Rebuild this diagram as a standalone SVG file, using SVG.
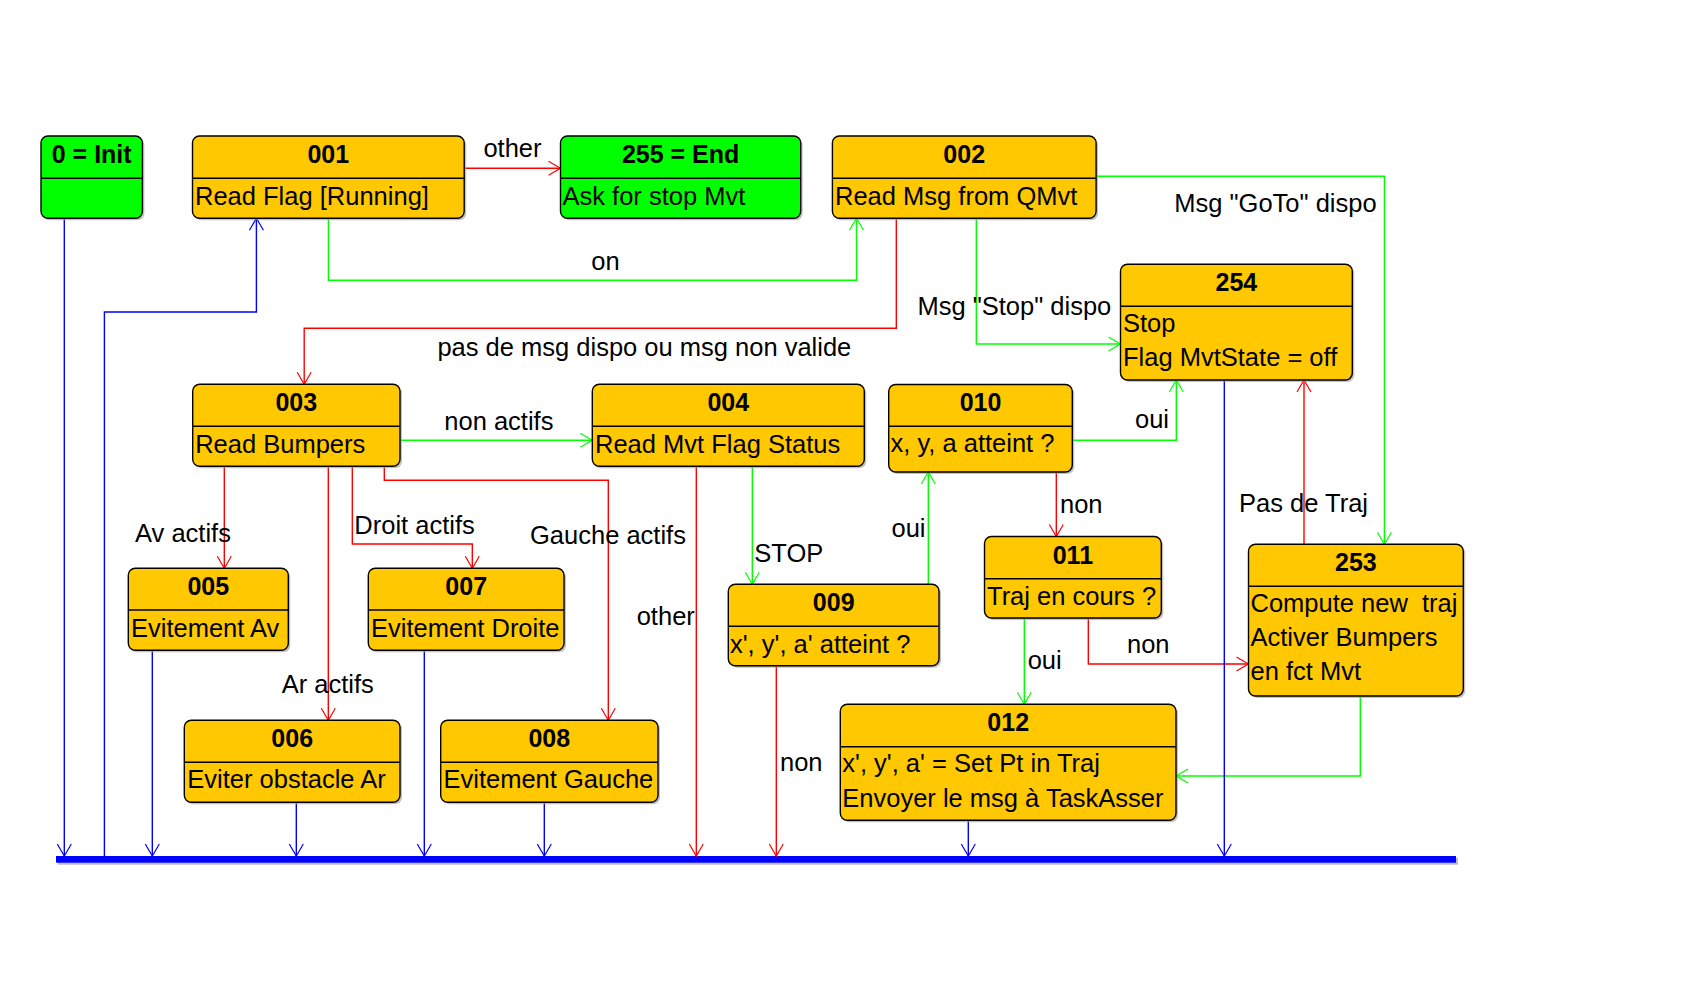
<svg xmlns="http://www.w3.org/2000/svg" width="1683" height="993" viewBox="0 0 1683 993">
<style>
.box{stroke:#000;stroke-width:1.4}
.y{fill:#FFC800}
.g{fill:#00FF00}
.sh{fill:#9a9a9a;opacity:0.6}
.sep{stroke:#000;stroke-width:1.4}
.hd{font-family:"Liberation Sans",Arial,sans-serif;font-weight:bold;font-size:25px;text-anchor:middle;fill:#000}
.bd{font-family:"Liberation Sans",Arial,sans-serif;font-size:25.5px;fill:#000;white-space:pre}
.lb{font-family:"Liberation Sans",Arial,sans-serif;font-size:25.5px;fill:#000;white-space:pre}
.r{stroke:#FF0000;stroke-width:1.4;fill:none;marker-end:url(#ar)}
.gr{stroke:#00FF00;stroke-width:1.4;fill:none;marker-end:url(#ag)}
.b{stroke:#0000FF;stroke-width:1.4;fill:none;marker-end:url(#ab)}
.bn{stroke:#0000FF;stroke-width:1.4;fill:none}
</style>
<defs>
<marker id="ar" markerUnits="userSpaceOnUse" markerWidth="16" markerHeight="18" viewBox="-14 -9 16 18" refX="0" refY="0" orient="auto"><path d="M-12,-7 L0,0 L-12,7" fill="none" stroke="#FF0000" stroke-width="1.2"/></marker>
<marker id="ag" markerUnits="userSpaceOnUse" markerWidth="16" markerHeight="18" viewBox="-14 -9 16 18" refX="0" refY="0" orient="auto"><path d="M-12,-7 L0,0 L-12,7" fill="none" stroke="#00FF00" stroke-width="1.2"/></marker>
<marker id="ab" markerUnits="userSpaceOnUse" markerWidth="16" markerHeight="18" viewBox="-14 -9 16 18" refX="0" refY="0" orient="auto"><path d="M-12,-7 L0,0 L-12,7" fill="none" stroke="#0000FF" stroke-width="1.2"/></marker>
</defs>
<rect width="1683" height="993" fill="#fff"/>

<g id="bar">
<rect x="58" y="858" width="1400" height="6.7" fill="#bbbbbb"/>
<rect x="56" y="856" width="1400" height="6.7" fill="#0000FF"/>
</g>

<g id="connectors">
<path class="r" d="M464.2,168.3 H560.5"/>
<path class="gr" d="M328.4,218.3 V280.3 H856.5 V218.3"/>
<path class="r" d="M896.3,218.3 V328.3 H304.2 V384.3"/>
<path class="gr" d="M976.3,218.3 V344 H1120.5"/>
<path class="gr" d="M1096.1,176.3 H1384.4 V544.3"/>
<path class="gr" d="M400,440.3 H592.3"/>
<path class="r" d="M224.3,466.3 V568.3"/>
<path class="r" d="M328.3,466.3 V720.3"/>
<path class="r" d="M352.3,466.3 V544 H472.3 V568.3"/>
<path class="r" d="M384.3,466.3 V480.3 H608.3 V720.3"/>
<path class="r" d="M696.3,466.3 V856"/>
<path class="gr" d="M752.3,466.3 V584.3"/>
<path class="gr" d="M928.3,584.3 V472"/>
<path class="r" d="M776.3,665.7 V856"/>
<path class="gr" d="M1072.3,440.3 H1176.3 V380"/>
<path class="r" d="M1056.3,472 V536.5"/>
<path class="gr" d="M1024.3,618 V704.3"/>
<path class="r" d="M1088.3,618 V664 H1248.5"/>
<path class="r" d="M1304,544.3 V380"/>
<path class="gr" d="M1360.3,696 V776 H1176"/>
<path class="b" d="M64.3,218.3 V856"/>
<path class="b" d="M104.4,856 V312 H256.4 V218.3"/>
<path class="b" d="M152.3,650.3 V856"/>
<path class="b" d="M296.3,802.3 V856"/>
<path class="b" d="M424.3,650.3 V856"/>
<path class="b" d="M544.3,802.3 V856"/>
<path class="b" d="M968.3,820.3 V856"/>
<path class="b" d="M1224.3,380 V856"/>
</g>

<g id="labels">
<text class="lb" x="483.4" y="157.3">other</text>
<text class="lb" x="591.3" y="270">on</text>
<text class="lb" x="437.4" y="356">pas de msg dispo ou msg non valide</text>
<text class="lb" x="917.4" y="315">Msg "Stop" dispo</text>
<text class="lb" x="1174.3" y="211.7">Msg "GoTo" dispo</text>
<text class="lb" x="444.3" y="430">non actifs</text>
<text class="lb" x="135" y="542">Av actifs</text>
<text class="lb" x="281.7" y="693.3">Ar actifs</text>
<text class="lb" x="354.3" y="534">Droit actifs</text>
<text class="lb" x="530" y="544.3">Gauche actifs</text>
<text class="lb" x="636.7" y="625.3">other</text>
<text class="lb" x="754.3" y="561.7">STOP</text>
<text class="lb" x="891.5" y="536.7">oui</text>
<text class="lb" x="780" y="770.7">non</text>
<text class="lb" x="1135" y="428.3">oui</text>
<text class="lb" x="1060" y="513.3">non</text>
<text class="lb" x="1027.7" y="669.3">oui</text>
<text class="lb" x="1127" y="653.3">non</text>
<text class="lb" x="1239" y="512.3">Pas de Traj</text>
</g>

<g id="n-init">
<rect class="sh" x="43" y="138" width="101.4" height="82.3" rx="7"/>
<rect class="box g" x="41" y="136" width="101.4" height="82.3" rx="7"/>
<line class="sep" x1="41" y1="178.3" x2="142.4" y2="178.3"/>
<text class="hd" x="91.7" y="163.3">0 = Init</text>
</g>

<g id="n-001">
<rect class="sh" x="194.5" y="138" width="271.7" height="82.3" rx="7"/>
<rect class="box y" x="192.5" y="136" width="271.7" height="82.3" rx="7"/>
<line class="sep" x1="192.5" y1="178.3" x2="464.2" y2="178.3"/>
<text class="hd" x="328.3" y="163.3">001</text>
<text class="bd" x="195" y="205">Read Flag [Running]</text>
</g>

<g id="n-255">
<rect class="sh" x="562.5" y="138" width="240.2" height="82.3" rx="7"/>
<rect class="box g" x="560.5" y="136" width="240.2" height="82.3" rx="7"/>
<line class="sep" x1="560.5" y1="178.3" x2="800.7" y2="178.3"/>
<text class="hd" x="680.6" y="163.3">255 = End</text>
<text class="bd" x="562.5" y="205">Ask for stop Mvt</text>
</g>

<g id="n-002">
<rect class="sh" x="834.4" y="138" width="263.7" height="82.3" rx="7"/>
<rect class="box y" x="832.4" y="136" width="263.7" height="82.3" rx="7"/>
<line class="sep" x1="832.4" y1="178.3" x2="1096.1" y2="178.3"/>
<text class="hd" x="964.2" y="163.3">002</text>
<text class="bd" x="835" y="205">Read Msg from QMvt</text>
</g>

<g id="n-254">
<rect class="sh" x="1122.5" y="266.3" width="231.8" height="115.7" rx="7"/>
<rect class="box y" x="1120.5" y="264.3" width="231.8" height="115.7" rx="7"/>
<line class="sep" x1="1120.5" y1="306.3" x2="1352.3" y2="306.3"/>
<text class="hd" x="1236.4" y="291.3">254</text>
<text class="bd" x="1123" y="331.7">Stop</text>
<text class="bd" x="1123" y="365.7">Flag MvtState = off</text>
</g>

<g id="n-003">
<rect class="sh" x="194.7" y="386.3" width="207.3" height="82" rx="7"/>
<rect class="box y" x="192.7" y="384.3" width="207.3" height="82" rx="7"/>
<line class="sep" x1="192.7" y1="426.3" x2="400" y2="426.3"/>
<text class="hd" x="296.3" y="411.3">003</text>
<text class="bd" x="195.2" y="452.7">Read Bumpers</text>
</g>

<g id="n-004">
<rect class="sh" x="594.3" y="386.3" width="272" height="82" rx="7"/>
<rect class="box y" x="592.3" y="384.3" width="272" height="82" rx="7"/>
<line class="sep" x1="592.3" y1="426.3" x2="864.3" y2="426.3"/>
<text class="hd" x="728.3" y="411.3">004</text>
<text class="bd" x="595" y="452.7">Read Mvt Flag Status</text>
</g>

<g id="n-010">
<rect class="sh" x="890.7" y="386.5" width="183.6" height="87.5" rx="7"/>
<rect class="box y" x="888.7" y="384.5" width="183.6" height="87.5" rx="7"/>
<line class="sep" x1="888.7" y1="426.3" x2="1072.3" y2="426.3"/>
<text class="hd" x="980.5" y="411.3">010</text>
<text class="bd" x="890.5" y="451.7">x, y, a atteint ?</text>
</g>

<g id="n-005">
<rect class="sh" x="130.3" y="570.3" width="160" height="82" rx="7"/>
<rect class="box y" x="128.3" y="568.3" width="160" height="82" rx="7"/>
<line class="sep" x1="128.3" y1="610" x2="288.3" y2="610"/>
<text class="hd" x="208.3" y="595.3">005</text>
<text class="bd" x="131" y="636.5">Evitement Av</text>
</g>

<g id="n-007">
<rect class="sh" x="370.3" y="570.3" width="195.7" height="82" rx="7"/>
<rect class="box y" x="368.3" y="568.3" width="195.7" height="82" rx="7"/>
<line class="sep" x1="368.3" y1="610" x2="564" y2="610"/>
<text class="hd" x="466.2" y="595.3">007</text>
<text class="bd" x="371" y="636.5">Evitement Droite</text>
</g>

<g id="n-009">
<rect class="sh" x="730.3" y="586.3" width="210.7" height="81.4" rx="7"/>
<rect class="box y" x="728.3" y="584.3" width="210.7" height="81.4" rx="7"/>
<line class="sep" x1="728.3" y1="626.3" x2="939" y2="626.3"/>
<text class="hd" x="833.7" y="611.3">009</text>
<text class="bd" x="730" y="652.7">x', y', a' atteint ?</text>
</g>

<g id="n-011">
<rect class="sh" x="986.5" y="538.5" width="176.8" height="81.5" rx="7"/>
<rect class="box y" x="984.5" y="536.5" width="176.8" height="81.5" rx="7"/>
<line class="sep" x1="984.5" y1="578.7" x2="1161.3" y2="578.7"/>
<text class="hd" x="1072.9" y="563.5">011</text>
<text class="bd" x="987" y="605">Traj en cours ?</text>
</g>

<g id="n-253">
<rect class="sh" x="1250.5" y="546.3" width="214.8" height="151.7" rx="7"/>
<rect class="box y" x="1248.5" y="544.3" width="214.8" height="151.7" rx="7"/>
<line class="sep" x1="1248.5" y1="586.3" x2="1463.3" y2="586.3"/>
<text class="hd" x="1355.9" y="571.3">253</text>
<text class="bd" x="1250.5" y="611.7">Compute new  traj</text>
<text class="bd" x="1250.5" y="646">Activer Bumpers</text>
<text class="bd" x="1250.5" y="680">en fct Mvt</text>
</g>

<g id="n-006">
<rect class="sh" x="186.3" y="722.3" width="215.7" height="82" rx="7"/>
<rect class="box y" x="184.3" y="720.3" width="215.7" height="82" rx="7"/>
<line class="sep" x1="184.3" y1="762.3" x2="400" y2="762.3"/>
<text class="hd" x="292.2" y="747.3">006</text>
<text class="bd" x="187.3" y="787.7">Eviter obstacle Ar</text>
</g>

<g id="n-008">
<rect class="sh" x="442.7" y="722.3" width="217.3" height="82" rx="7"/>
<rect class="box y" x="440.7" y="720.3" width="217.3" height="82" rx="7"/>
<line class="sep" x1="440.7" y1="762.3" x2="658" y2="762.3"/>
<text class="hd" x="549.3" y="747.3">008</text>
<text class="bd" x="443.5" y="787.7">Evitement Gauche</text>
</g>

<g id="n-012">
<rect class="sh" x="842.3" y="706.3" width="335.7" height="116" rx="7"/>
<rect class="box y" x="840.3" y="704.3" width="335.7" height="116" rx="7"/>
<line class="sep" x1="840.3" y1="746.7" x2="1176" y2="746.7"/>
<text class="hd" x="1008.2" y="731.3">012</text>
<text class="bd" x="842.3" y="772.3">x', y', a' = Set Pt in Traj</text>
<text class="bd" x="842.3" y="806.7">Envoyer le msg à TaskAsser</text>
</g>
</svg>
